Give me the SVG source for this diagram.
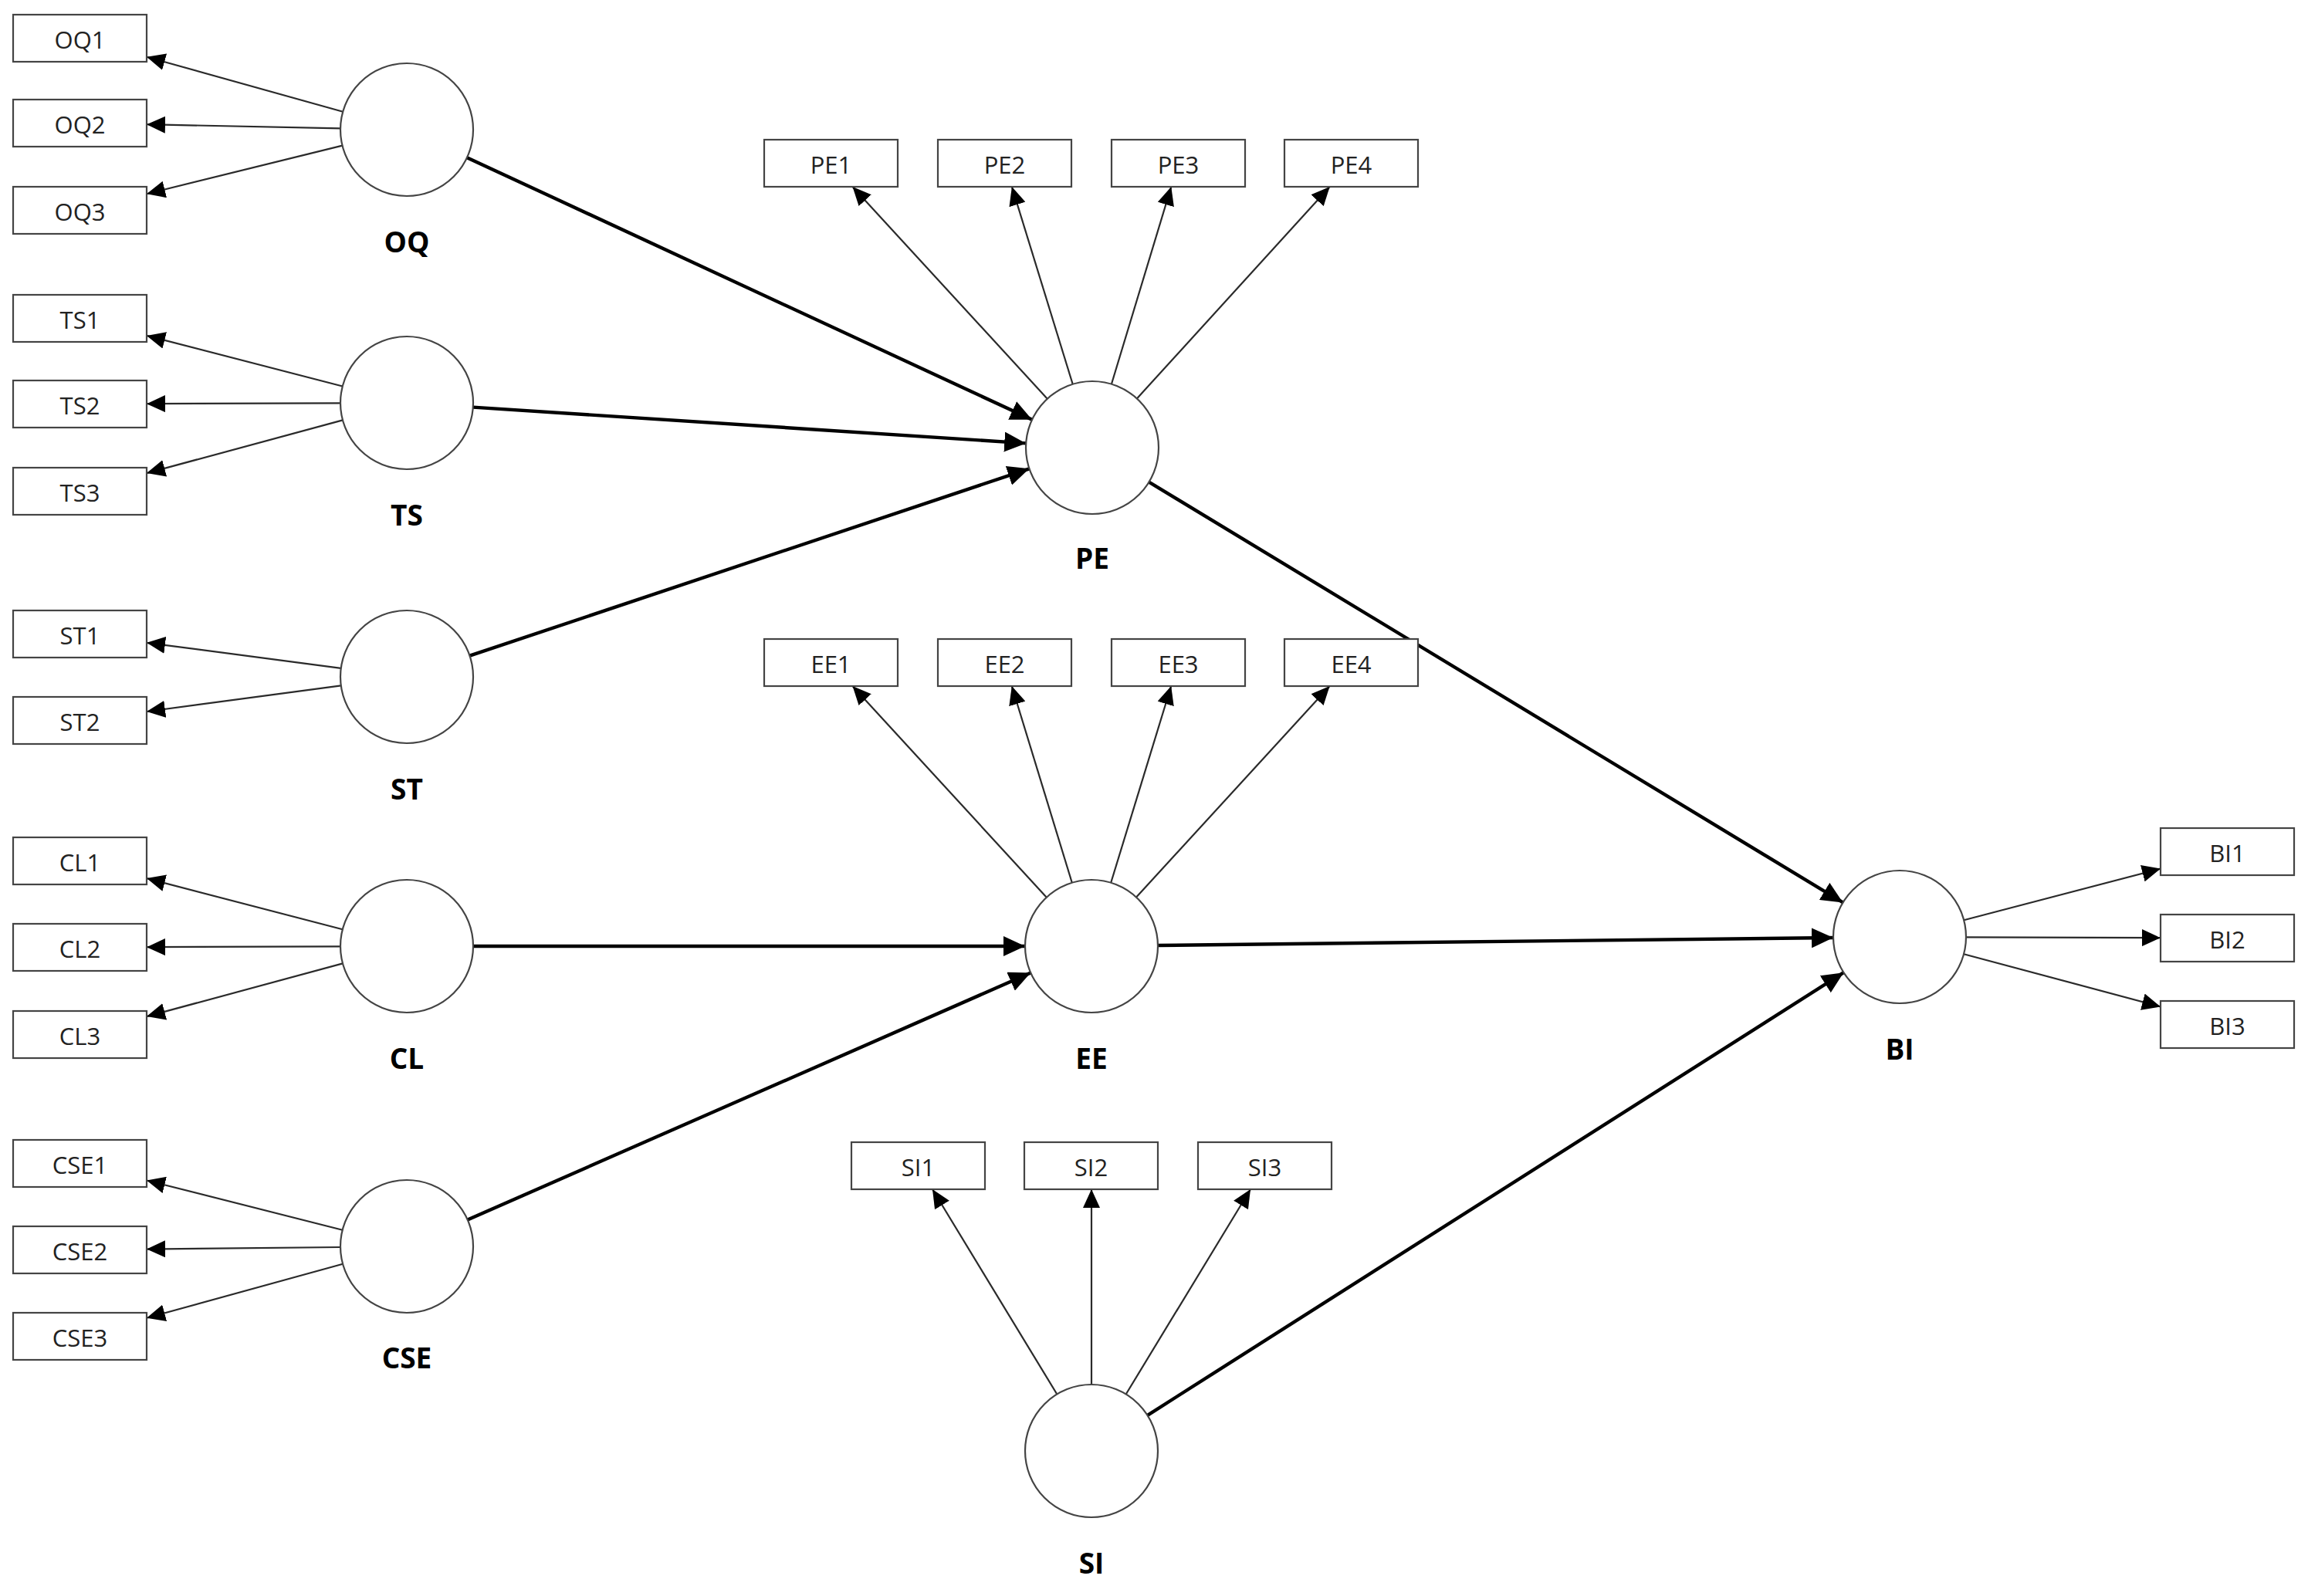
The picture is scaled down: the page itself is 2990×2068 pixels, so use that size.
<svg xmlns="http://www.w3.org/2000/svg" width="2990" height="2068" viewBox="0 0 2990 2068">
<style>
.bg{fill:#ffffff}
.box{fill:#ffffff;stroke:#444444;stroke-width:2.2}
.lv{fill:#ffffff;stroke:#444444;stroke-width:2.2}
.bt{font-family:"Open Sans","Noto Sans","Liberation Sans",sans-serif;font-size:31px;fill:#222222;text-anchor:middle}
.lt{font-family:"Open Sans","Noto Sans","Liberation Sans",sans-serif;font-size:37px;font-weight:bold;fill:#000000;text-anchor:middle}
.thin{stroke:#2a2a2a;stroke-width:2.2;fill:none;marker-end:url(#ah)}
.thick{stroke:#000000;stroke-width:4.4;fill:none;marker-end:url(#ahb)}
</style>
<defs>
<marker id="ah" markerUnits="userSpaceOnUse" markerWidth="24" markerHeight="22" refX="24" refY="11" orient="auto"><path d="M0,0 L24,11 L0,22 z" fill="#000000"/></marker>
<marker id="ahb" markerUnits="userSpaceOnUse" markerWidth="28" markerHeight="26" refX="28" refY="13" orient="auto"><path d="M0,0 L28,13 L0,26 z" fill="#000000"/></marker>
</defs>
<rect class="bg" x="0" y="0" width="2990" height="2068"/>
<g id="connectors">
<line class="thin" x1="444.2" y1="144.8" x2="190" y2="73.7"/>
<line class="thin" x1="441" y1="166.3" x2="190" y2="161.2"/>
<line class="thin" x1="443.5" y1="188.6" x2="190" y2="251.2"/>
<line class="thin" x1="443.7" y1="500.5" x2="190" y2="434.9"/>
<line class="thin" x1="441" y1="522.3" x2="190" y2="523.2"/>
<line class="thin" x1="444" y1="544.4" x2="190" y2="613.1"/>
<line class="thin" x1="441.7" y1="865.8" x2="190" y2="832.8"/>
<line class="thin" x1="441.8" y1="888.4" x2="190" y2="922"/>
<line class="thin" x1="443.8" y1="1204.3" x2="190" y2="1138.1"/>
<line class="thin" x1="441" y1="1226.3" x2="190" y2="1227.2"/>
<line class="thin" x1="444" y1="1248.4" x2="190" y2="1317.1"/>
<line class="thin" x1="443.6" y1="1593.8" x2="190" y2="1529.5"/>
<line class="thin" x1="441" y1="1616" x2="190" y2="1618.6"/>
<line class="thin" x1="444.1" y1="1637.8" x2="190" y2="1707.7"/>
<line class="thin" x1="1356.8" y1="516.7" x2="1104.5" y2="242"/>
<line class="thin" x1="1389.7" y1="497.8" x2="1310.9" y2="242"/>
<line class="thin" x1="1439.9" y1="497.7" x2="1517.3" y2="242"/>
<line class="thin" x1="1472.9" y1="516.4" x2="1722.7" y2="242"/>
<line class="thin" x1="1355.8" y1="1162.7" x2="1104.5" y2="889"/>
<line class="thin" x1="1388.8" y1="1143.8" x2="1310.8" y2="889"/>
<line class="thin" x1="1439.2" y1="1143.8" x2="1517.2" y2="889"/>
<line class="thin" x1="1472.1" y1="1162.6" x2="1722.6" y2="889"/>
<line class="thin" x1="1369.3" y1="1806.5" x2="1208" y2="1541"/>
<line class="thin" x1="1414" y1="1794" x2="1414" y2="1541"/>
<line class="thin" x1="1458.7" y1="1806.5" x2="1620" y2="1541"/>
<line class="thin" x1="2544.2" y1="1192.2" x2="2799" y2="1125.6"/>
<line class="thin" x1="2547" y1="1214.3" x2="2799" y2="1215.2"/>
<line class="thin" x1="2544.1" y1="1236.2" x2="2799" y2="1304.4"/>
<line class="thick" x1="605" y1="204.2" x2="1337" y2="543.8"/>
<line class="thick" x1="612.8" y1="527.6" x2="1329.2" y2="574.4"/>
<line class="thick" x1="608.6" y1="849.7" x2="1333.4" y2="607.3"/>
<line class="thick" x1="613" y1="1226" x2="1328" y2="1226"/>
<line class="thick" x1="605.8" y1="1580.5" x2="1335.2" y2="1260.5"/>
<line class="thick" x1="1488.5" y1="624.6" x2="2387.5" y2="1169.4"/>
<line class="thick" x1="1500" y1="1225" x2="2375" y2="1215"/>
<line class="thick" x1="1486.6" y1="1833.8" x2="2388.4" y2="1260.2"/>
</g>
<g id="OQ"><circle class="lv" cx="527" cy="168" r="86"/><text class="lt" x="527" y="327">OQ</text></g>
<g id="TS"><circle class="lv" cx="527" cy="522" r="86"/><text class="lt" x="527" y="681">TS</text></g>
<g id="ST"><circle class="lv" cx="527" cy="877" r="86"/><text class="lt" x="527" y="1036">ST</text></g>
<g id="CL"><circle class="lv" cx="527" cy="1226" r="86"/><text class="lt" x="527" y="1385">CL</text></g>
<g id="CSE"><circle class="lv" cx="527" cy="1615" r="86"/><text class="lt" x="527" y="1773">CSE</text></g>
<g id="PE"><circle class="lv" cx="1415" cy="580" r="86"/><text class="lt" x="1415" y="737">PE</text></g>
<g id="EE"><circle class="lv" cx="1414" cy="1226" r="86"/><text class="lt" x="1414" y="1385">EE</text></g>
<g id="SI"><circle class="lv" cx="1414" cy="1880" r="86"/><text class="lt" x="1414" y="2039">SI</text></g>
<g id="BI"><circle class="lv" cx="2461" cy="1214" r="86"/><text class="lt" x="2461" y="1373">BI</text></g>
<g id="OQ1"><rect class="box" x="17" y="19" width="173" height="61"/><text class="bt" x="103.5" y="63">OQ1</text></g>
<g id="OQ2"><rect class="box" x="17" y="129" width="173" height="61"/><text class="bt" x="103.5" y="173">OQ2</text></g>
<g id="OQ3"><rect class="box" x="17" y="242" width="173" height="61"/><text class="bt" x="103.5" y="286">OQ3</text></g>
<g id="TS1"><rect class="box" x="17" y="382" width="173" height="61"/><text class="bt" x="103.5" y="426">TS1</text></g>
<g id="TS2"><rect class="box" x="17" y="493" width="173" height="61"/><text class="bt" x="103.5" y="537">TS2</text></g>
<g id="TS3"><rect class="box" x="17" y="606" width="173" height="61"/><text class="bt" x="103.5" y="650">TS3</text></g>
<g id="ST1"><rect class="box" x="17" y="791" width="173" height="61"/><text class="bt" x="103.5" y="835">ST1</text></g>
<g id="ST2"><rect class="box" x="17" y="903" width="173" height="61"/><text class="bt" x="103.5" y="947">ST2</text></g>
<g id="CL1"><rect class="box" x="17" y="1085" width="173" height="61"/><text class="bt" x="103.5" y="1129">CL1</text></g>
<g id="CL2"><rect class="box" x="17" y="1197" width="173" height="61"/><text class="bt" x="103.5" y="1241">CL2</text></g>
<g id="CL3"><rect class="box" x="17" y="1310" width="173" height="61"/><text class="bt" x="103.5" y="1354">CL3</text></g>
<g id="CSE1"><rect class="box" x="17" y="1477" width="173" height="61"/><text class="bt" x="103.5" y="1521">CSE1</text></g>
<g id="CSE2"><rect class="box" x="17" y="1589" width="173" height="61"/><text class="bt" x="103.5" y="1633">CSE2</text></g>
<g id="CSE3"><rect class="box" x="17" y="1701" width="173" height="61"/><text class="bt" x="103.5" y="1745">CSE3</text></g>
<g id="PE1"><rect class="box" x="990" y="181" width="173" height="61"/><text class="bt" x="1076.5" y="225">PE1</text></g>
<g id="PE2"><rect class="box" x="1215" y="181" width="173" height="61"/><text class="bt" x="1301.5" y="225">PE2</text></g>
<g id="PE3"><rect class="box" x="1440" y="181" width="173" height="61"/><text class="bt" x="1526.5" y="225">PE3</text></g>
<g id="PE4"><rect class="box" x="1664" y="181" width="173" height="61"/><text class="bt" x="1750.5" y="225">PE4</text></g>
<g id="EE1"><rect class="box" x="990" y="828" width="173" height="61"/><text class="bt" x="1076.5" y="872">EE1</text></g>
<g id="EE2"><rect class="box" x="1215" y="828" width="173" height="61"/><text class="bt" x="1301.5" y="872">EE2</text></g>
<g id="EE3"><rect class="box" x="1440" y="828" width="173" height="61"/><text class="bt" x="1526.5" y="872">EE3</text></g>
<g id="EE4"><rect class="box" x="1664" y="828" width="173" height="61"/><text class="bt" x="1750.5" y="872">EE4</text></g>
<g id="SI1"><rect class="box" x="1103" y="1480" width="173" height="61"/><text class="bt" x="1189.5" y="1524">SI1</text></g>
<g id="SI2"><rect class="box" x="1327" y="1480" width="173" height="61"/><text class="bt" x="1413.5" y="1524">SI2</text></g>
<g id="SI3"><rect class="box" x="1552" y="1480" width="173" height="61"/><text class="bt" x="1638.5" y="1524">SI3</text></g>
<g id="BI1"><rect class="box" x="2799" y="1073" width="173" height="61"/><text class="bt" x="2885.5" y="1117">BI1</text></g>
<g id="BI2"><rect class="box" x="2799" y="1185" width="173" height="61"/><text class="bt" x="2885.5" y="1229">BI2</text></g>
<g id="BI3"><rect class="box" x="2799" y="1297" width="173" height="61"/><text class="bt" x="2885.5" y="1341">BI3</text></g>
</svg>
